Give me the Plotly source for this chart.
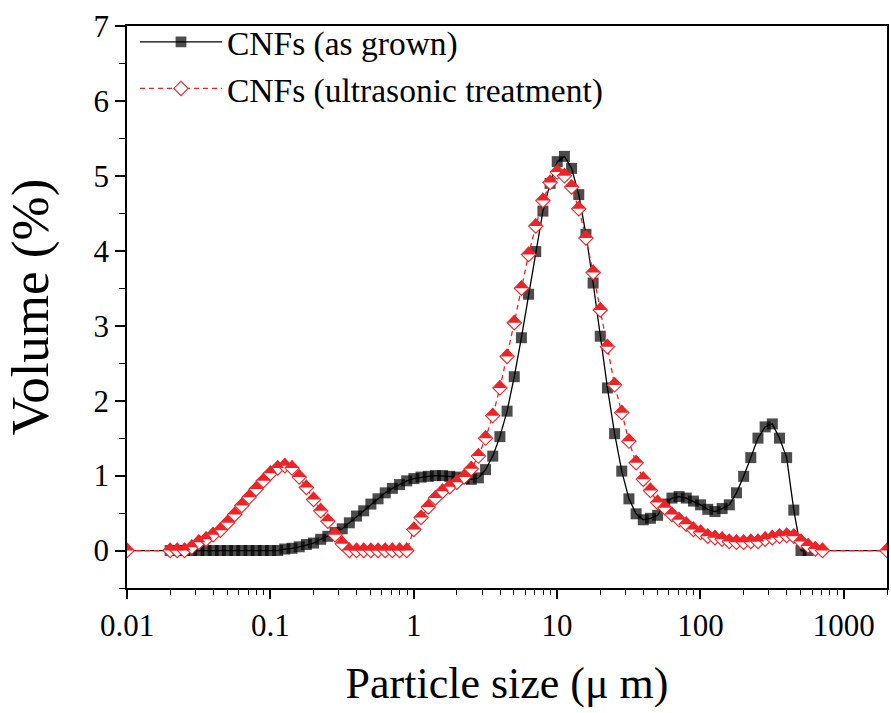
import plotly.graph_objects as go

# Particle size bins (µm), laser-diffraction grid
bin_sizes = [0.0200, 0.0224, 0.0252, 0.0283, 0.0317, 0.0356, 0.0399, 0.0448, 0.0502, 0.0564,
             0.0632, 0.0710, 0.0796, 0.0893, 0.1002, 0.1125, 0.1262, 0.1416, 0.1589, 0.1783,
             0.2000, 0.2244, 0.2518, 0.2825, 0.3170, 0.3557, 0.3991, 0.4477, 0.5024, 0.5637,
             0.6325, 0.7096, 0.7962, 0.8934, 1.002, 1.125, 1.262, 1.416, 1.589, 1.783,
             2.000, 2.244, 2.518, 2.825, 3.170, 3.557, 3.991, 4.477, 5.024, 5.637,
             6.325, 7.096, 7.962, 8.934, 10.02, 11.25, 12.62, 14.16, 15.89, 17.83,
             20.00, 22.44, 25.18, 28.25, 31.70, 35.57, 39.91, 44.77, 50.24, 56.37,
             63.25, 70.96, 79.62, 89.34, 100.2, 112.5, 126.2, 141.6, 158.9, 178.3,
             200.0, 224.4, 251.8, 282.5, 317.0, 355.7, 399.1, 447.7, 502.4, 563.7,
             632.5, 709.6]

# range end points of the measurement (volume 0)
size_start = 0.01
size_end = 2000

vol_as_grown = [0, 0, 0, 0, 0, 0, 0, 0, 0, 0,
                0, 0, 0, 0, 0, 0, 0.02, 0.03, 0.05, 0.08,
                0.10, 0.15, 0.19, 0.24, 0.29, 0.37, 0.46, 0.53, 0.62, 0.69,
                0.77, 0.83, 0.88, 0.93, 0.96, 0.98, 0.99, 1.00, 1.00, 0.99,
                0.98, 0.96, 0.95, 0.97, 1.08, 1.26, 1.52, 1.86, 2.32, 2.84,
                3.42, 3.99, 4.53, 4.90, 5.19, 5.26, 5.10, 4.75, 4.22, 3.57,
                2.86, 2.17, 1.56, 1.06, 0.69, 0.49, 0.41, 0.43, 0.47, 0.62,
                0.70, 0.72, 0.70, 0.66, 0.61, 0.55, 0.52, 0.56, 0.61, 0.77,
                0.99, 1.24, 1.50, 1.65, 1.69, 1.50, 1.24, 0.54, 0, 0]

vol_ultrasonic = [0, 0, 0, 0.045, 0.11, 0.15, 0.21, 0.27, 0.37, 0.48,
                  0.60, 0.71, 0.82, 0.93, 1.03, 1.10, 1.13, 1.10, 0.98, 0.84,
                  0.68, 0.53, 0.39, 0.21, 0.09, 0, 0, 0, 0, 0,
                  0, 0, 0, 0, 0.28, 0.44, 0.58, 0.70, 0.79, 0.85,
                  0.91, 0.98, 1.09, 1.26, 1.50, 1.80, 2.17, 2.59, 3.04, 3.50,
                  3.95, 4.33, 4.67, 4.91, 5.05, 5.00, 4.85, 4.56, 4.17, 3.71,
                  3.21, 2.72, 2.21, 1.84, 1.46, 1.17, 0.95, 0.80, 0.64, 0.57,
                  0.48, 0.41, 0.35, 0.28, 0.24, 0.19, 0.17, 0.15, 0.12, 0.11,
                  0.11, 0.12, 0.12, 0.15, 0.17, 0.19, 0.20, 0.19, 0.12, 0.06,
                  0.02, 0]

x_tick_vals = [0.01, 0.1, 1, 10, 100, 1000]
x_tick_text = ["0.01", "0.1", "1", "10", "100", "1000"]
y_tick_vals = [0, 1, 2, 3, 4, 5, 6, 7]

RED = "#ec2327"
FONT = "Liberation Serif"
SQ = 11      # square marker size
DM = 11      # diamond marker size

x_grown = [size_start] + bin_sizes[:len(vol_as_grown)] + [size_end]
y_grown = [0] + vol_as_grown + [0]
x_us = [size_start] + bin_sizes[:len(vol_ultrasonic)] + [size_end]
y_us = [0] + vol_ultrasonic + [0]

fig = go.Figure()

fig.add_trace(go.Scatter(
    x=x_grown, y=y_grown, mode="lines+markers", name="CNFs (as grown)",
    line=dict(color="black", width=1.3),
    marker=dict(symbol="square", color="black",
                size=[0] + [SQ] * len(vol_as_grown) + [0],
                line=dict(width=0)),
))

fig.add_trace(go.Scatter(
    x=x_us, y=y_us, mode="lines+markers", name="CNFs (ultrasonic treatment)",
    line=dict(color=RED, width=1.3, dash="5px,4px"),
    marker=dict(symbol="diamond", color="white", size=DM,
                line=dict(color=RED, width=1.1)),
))

# upper (filled) half of the half-filled diamonds
fig.add_trace(go.Scatter(
    x=x_us, y=y_us, mode="markers", showlegend=False, hoverinfo="skip",
    marker=dict(symbol="triangle-down", angle=180, standoff=DM / 4,
                color=RED, size=DM, line=dict(width=0)),
))

minor_x = [m * 10 ** e for e in range(-2, 4) for m in range(2, 10) if m * 10 ** e <= 2000]
minor_y = [v + 0.5 for v in range(-1, 7)]

fig.update_layout(
    width=891, height=713,
    margin=dict(l=127, r=2, t=26, b=125),
    paper_bgcolor="white", plot_bgcolor="white",
    font=dict(family=FONT, color="black"),
    showlegend=True,
    legend=dict(x=0.0105, y=1.022, xanchor="left", yanchor="top",
                bgcolor="rgba(0,0,0,0)", font=dict(family=FONT, size=33.5),
                itemwidth=82, tracegroupgap=0),
    xaxis=dict(
        type="log", range=[-2, 3.301],
        tickmode="array", tickvals=x_tick_vals, ticktext=x_tick_text,
        ticks="outside", ticklen=9, tickwidth=1.5, tickcolor="black",
        minor=dict(tickmode="array", tickvals=minor_x, ticks="outside",
                   ticklen=5, tickwidth=1.2, tickcolor="black", showgrid=False),
        showline=True, linewidth=1.6, linecolor="black", mirror=True,
        showgrid=False, zeroline=False,
        tickfont=dict(family=FONT, size=31),
        title=dict(text="Particle size (μ m)", font=dict(family=FONT, size=44), standoff=25),
    ),
    yaxis=dict(
        range=[-0.5, 7],
        tickmode="array", tickvals=y_tick_vals,
        ticks="outside", ticklen=10, tickwidth=1.5, tickcolor="black",
        minor=dict(tickmode="array", tickvals=minor_y, ticks="outside",
                   ticklen=6, tickwidth=1.2, tickcolor="black", showgrid=False),
        showline=True, linewidth=1.6, linecolor="black", mirror=True,
        showgrid=False, zeroline=False,
        tickfont=dict(family=FONT, size=31),
        title=dict(text="Volume (%)", font=dict(family=FONT, size=53), standoff=28),
    ),
)

fig.write_html("out.html")
